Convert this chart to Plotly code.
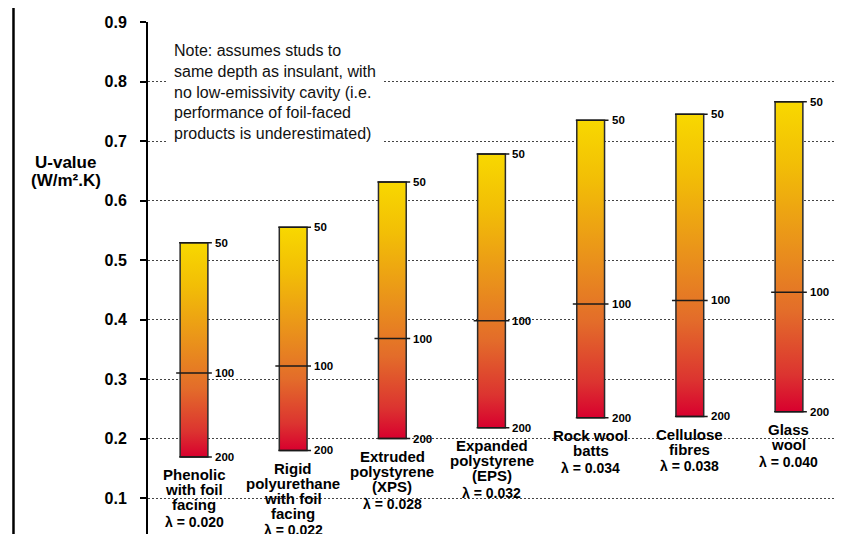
import plotly.graph_objects as go

# ---- data ----
label_lines = [
    ["Phenolic", "with foil", "facing"],
    ["Rigid", "polyurethane", "with foil", "facing"],
    ["Extruded", "polystyrene", "(XPS)"],
    ["Expanded", "polystyrene", "(EPS)"],
    ["Rock wool", "batts"],
    ["Cellulose", "fibres"],
    ["Glass", "wool"],
]
lambdas = ["0.020", "0.022", "0.028", "0.032", "0.034", "0.038", "0.040"]
u_50mm = [0.529, 0.555, 0.631, 0.678, 0.735, 0.745, 0.766]
u_100mm = [0.310, 0.322, 0.368, 0.398, 0.426, 0.432, 0.446]
u_200mm = [0.169, 0.180, 0.200, 0.218, 0.235, 0.237, 0.245]
thickness_labels = ["50", "100", "200"]
y_ticks = [0.1, 0.2, 0.3, 0.4, 0.5, 0.6, 0.7, 0.8, 0.9]
note_text = ("Note: assumes studs to<br>same depth as insulant, with<br>"
             "no low-emissivity cavity (i.e.<br>performance of foil-faced<br>"
             "products is underestimated)")

FONT = "Liberation Sans, Arial, Helvetica, sans-serif"
colorscale = [[0.0, "#D8002E"], [0.12, "#DC3430"], [0.32, "#E36C2A"],
              [0.55, "#EA941A"], [0.8, "#F2BE06"], [1.0, "#F8D800"]]

fig = go.Figure()
half = 0.14
n = len(u_50mm)
xs_idx = list(range(n))

for i in xs_idx:
    fig.add_trace(go.Scatter(
        x=[i - half, i + half, i + half, i - half, i - half],
        y=[u_200mm[i], u_200mm[i], u_50mm[i], u_50mm[i], u_200mm[i]],
        mode="lines", fill="toself",
        fillgradient=dict(type="vertical", colorscale=colorscale),
        line=dict(color="#2b2b2b", width=1.5),
        hoverinfo="skip", showlegend=False, cliponaxis=False))

# thickness marker lines
tx, ty = [], []
for i in xs_idx:
    for v, left in ((u_50mm[i], 0.15), (u_100mm[i], 0.18), (u_200mm[i], 0.15)):
        tx += [i - left, i + 0.18, None]
        ty += [v, v, None]
fig.add_trace(go.Scatter(x=tx, y=ty, mode="lines",
                         line=dict(color="#1a1a1a", width=1.5),
                         hoverinfo="skip", showlegend=False, cliponaxis=False))

annotations = []
for i in xs_idx:
    for v, t in zip((u_50mm[i], u_100mm[i], u_200mm[i]), thickness_labels):
        annotations.append(dict(x=i + 0.19, y=v, text=t, showarrow=False,
                                xanchor="left", yanchor="middle",
                                font=dict(family=FONT, size=11.5, color="black", weight="bold")))
    lines = label_lines[i]
    for k, line in enumerate(lines):
        annotations.append(dict(x=i, y=u_200mm[i], text=line, showarrow=False,
                                xanchor="center", yanchor="middle", yshift=-(18 + 15 * k),
                                font=dict(family=FONT, size=15, color="black", weight="bold")))
    annotations.append(dict(x=i, y=u_200mm[i], text="λ = " + lambdas[i], showarrow=False,
                            xanchor="center", yanchor="middle",
                            yshift=-(18 + 15 * (len(lines) - 1) + 17),
                            font=dict(family=FONT, size=14, color="black", weight="bold")))

# y-axis title
annotations.append(dict(xref="paper", yref="paper", x=-0.1194, y=1 - (162 - 22) / 512,
                        text="U-value", showarrow=False, xanchor="center", yanchor="middle",
                        font=dict(family=FONT, size=17, color="black", weight="bold")))
annotations.append(dict(xref="paper", yref="paper", x=-0.1194, y=1 - (180 - 22) / 512,
                        text="(W/m².K)", showarrow=False, xanchor="center", yanchor="middle",
                        font=dict(family=FONT, size=17, color="black", weight="bold")))
# note
annotations.append(dict(xref="paper", yref="paper", x=0.0277, y=0.975,
                        text=note_text, showarrow=False, xanchor="left", yanchor="top",
                        align="left", bgcolor="white", borderpad=6,
                        font=dict(family=FONT, size=16, color="#111111")))

shapes = [
    dict(type="line", xref="paper", yref="paper", x0=-0.1958, x1=-0.1958, y0=-0.02, y1=1.06,
         line=dict(color="black", width=2.5)),
    dict(type="line", xref="paper", yref="paper", x0=1.0226, x1=1.0226, y0=-0.02, y1=1.06,
         line=dict(color="black", width=2.5)),
]

# the page body adds an 8px offset, so the figure is 8px smaller in each direction
fig.update_layout(
    width=845, height=526,
    margin=dict(l=140, r=18, t=14, b=0),
    paper_bgcolor="white", plot_bgcolor="white",
    xaxis=dict(visible=False, range=[-0.464, 6.464], fixedrange=True),
    yaxis=dict(range=[0.0395, 0.9], tickvals=y_ticks, tickformat=".1f",
               showgrid=True, gridcolor="#444444", gridwidth=1, griddash="2px,2px",
               zeroline=False, showline=True, linecolor="black", linewidth=2,
               ticks="outside", ticklen=6, tickwidth=1.5, tickcolor="black",
               ticklabelstandoff=10,
               tickfont=dict(family=FONT, size=16, color="black", weight="bold")),
    annotations=annotations, shapes=shapes,
    showlegend=False,
)

fig.write_html("out.html")
